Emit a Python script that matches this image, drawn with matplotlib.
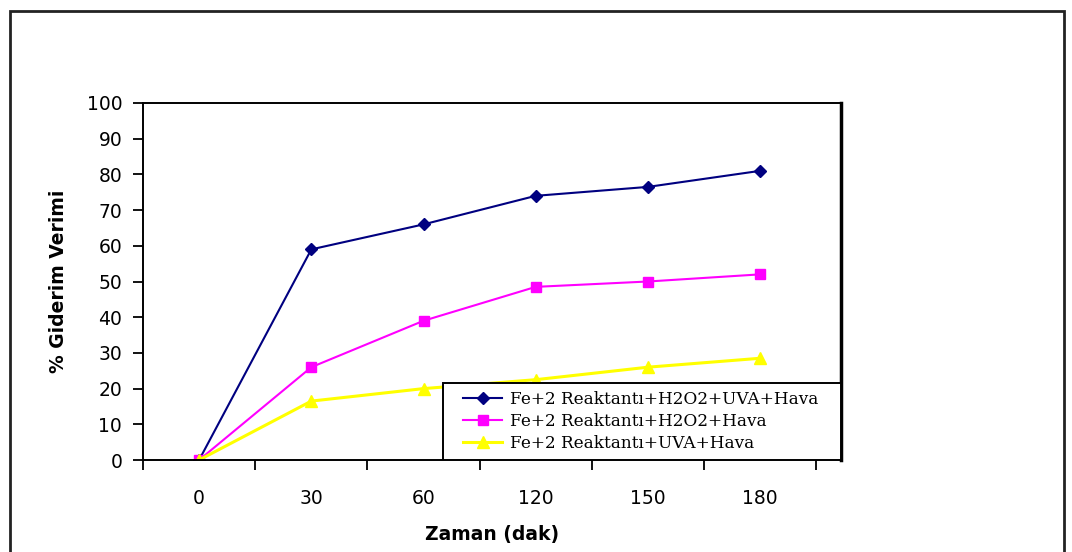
import matplotlib.pyplot as plt
from matplotlib.patches import Rectangle
import numpy as np

# data
zaman = ["0", "30", "60", "120", "150", "180"]
uva_h2o2 = [0, 59, 66, 74, 76.5, 81]
h2o2 = [0, 26, 39, 48.5, 50, 52]
uva = [0, 16.5, 20, 22.5, 26, 28.5]
labels = ["Fe+2 Reaktantı+H2O2+UVA+Hava",
          "Fe+2 Reaktantı+H2O2+Hava",
          "Fe+2 Reaktantı+UVA+Hava"]

fig = plt.figure(figsize=(10.72, 5.52), dpi=100)
ax = fig.add_axes([143/1072, 92/552, 698/1072, 357/552])

x = np.arange(len(zaman))
ax.plot(x, uva_h2o2, color="#000080", lw=1.5, marker="D", ms=6, label=labels[0])
ax.plot(x, h2o2, color="#FF00FF", lw=1.5, marker="s", ms=7, label=labels[1])
ax.plot(x, uva, color="#FFFF00", lw=2.2, marker="^", ms=8, label=labels[2])

ax.set_xlim(-0.5, 5.72)
ax.set_ylim(0, 100)
ax.set_yticks(np.arange(0, 101, 10))
ax.set_xticks(x)
ax.set_xticklabels(zaman)
ax.set_xticks(np.arange(-0.5, 6, 1), minor=True)

ax.tick_params(axis="y", direction="out", length=7, width=1.3, pad=8, labelsize=13.5)
ax.tick_params(axis="x", which="major", length=0, pad=21, labelsize=13.5)
ax.tick_params(axis="x", which="minor", direction="out", length=7, width=1.3)

for side in ["left", "bottom", "top"]:
    ax.spines[side].set_linewidth(1.4)
ax.spines["right"].set_linewidth(2.5)

ax.set_ylabel("% Giderim Verimi", fontsize=13.5, fontweight="bold", labelpad=13)
ax.set_xlabel("Zaman (dak)", fontsize=13.5, fontweight="bold", labelpad=12)

# legend entries without frame, box drawn separately (wider side padding)
ax.add_patch(Rectangle((0.43, 0), 0.57, 0.216, transform=ax.transAxes,
                       facecolor="white", edgecolor="black", lw=1.4, zorder=4))
leg = ax.legend(loc="lower left", bbox_to_anchor=(0.4476, 0), borderaxespad=0,
                prop={"family": "DejaVu Serif", "size": 12.2},
                handlelength=2.3, handletextpad=0.5, labelspacing=0.3,
                borderpad=0.45, frameon=False)
leg.set_zorder(5)

# outer chart border
fig.patches.append(Rectangle((10/1072, -0.05), 1054/1072, 1.05 - 11/552,
                             transform=fig.transFigure, fill=False,
                             edgecolor="#222222", lw=2))

fig.savefig("out.png", dpi=100)
